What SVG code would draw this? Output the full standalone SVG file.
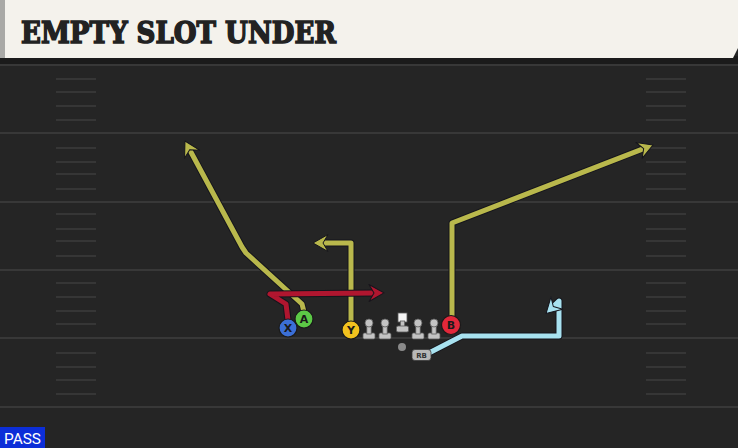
<svg xmlns="http://www.w3.org/2000/svg" width="738" height="448" viewBox="0 0 738 448">
  <style>
    .yard { stroke: #383838; stroke-width: 2; }
    .hash { stroke: #363636; stroke-width: 2; }
    .outline { fill: none; stroke: #15151c; stroke-width: 7; stroke-linejoin: round; stroke-linecap: butt; }
    .route { fill: none; stroke-width: 5; stroke-linejoin: round; stroke-linecap: butt; }
    .olive { stroke: #b9b84c; }
    .red { stroke: #b0162f; }
    .blue { stroke: #a8e2f0; }
    .player { stroke: #1a1a1a; stroke-width: 1.2; }
    .ltr { font-family: "DejaVu Sans", "Liberation Sans", sans-serif; font-weight: bold; font-size: 11px; fill: #1a1a1a; text-anchor: middle; }
    .lineman { fill: #c4c4c4; stroke: #5a5a5a; stroke-width: 0.8; }
  </style>
  <defs>
    <marker id="ah-olive" markerUnits="userSpaceOnUse" viewBox="-7 -11 19 22" refX="0" refY="0" markerWidth="19" markerHeight="22" orient="auto">
      <path d="M-5,-8.5 L10,0 L-5,8.5 L0,0 Z" fill="#b9b84c" stroke="#15151c" stroke-width="1" stroke-linejoin="round"/>
    </marker>
    <marker id="ah-red" markerUnits="userSpaceOnUse" viewBox="-7 -11 19 22" refX="0" refY="0" markerWidth="19" markerHeight="22" orient="auto">
      <path d="M-5,-8.5 L10,0 L-5,8.5 L0,0 Z" fill="#b0162f" stroke="#15151c" stroke-width="1" stroke-linejoin="round"/>
    </marker>
    <marker id="ah-blue" markerUnits="userSpaceOnUse" viewBox="-7 -11 19 22" refX="0" refY="0" markerWidth="19" markerHeight="22" orient="auto">
      <path d="M-5,-8.5 L10,0 L-5,8.5 L0,0 Z" fill="#a8e2f0" stroke="#15151c" stroke-width="1" stroke-linejoin="round"/>
    </marker>
    <g id="lman">
      <rect x="-6" y="10" width="12" height="6" rx="1.5" class="lineman"/>
      <rect x="-2.2" y="3" width="4.4" height="8" class="lineman"/>
      <circle cx="0" cy="0" r="4" class="lineman"/>
    </g>
  </defs>

  <!-- field -->
  <rect x="0" y="0" width="738" height="448" fill="#252525"/>
  <rect x="0" y="56" width="738" height="8" fill="#1b1b1b"/>

  <g id="yardlines">
    <line class="yard" x1="0" y1="65" x2="738" y2="65"/>
    <line class="yard" x1="0" y1="133" x2="738" y2="133"/>
    <line class="yard" x1="0" y1="202" x2="738" y2="202"/>
    <line class="yard" x1="0" y1="270" x2="738" y2="270"/>
    <line class="yard" x1="0" y1="338" x2="738" y2="338"/>
    <line class="yard" x1="0" y1="407" x2="738" y2="407"/>
  </g>
  <g id="hashes">
    <path class="hash" d="M56,79H96M56,92H96M56,106H96M56,120H96M56,148H96M56,162H96M56,174H96M56,189H96M56,214H96M56,229H96M56,241H96M56,256H96M56,283H96M56,297H96M56,311H96M56,324H96M56,353H96M56,367H96M56,380H96M56,394H96"/>
    <path class="hash" d="M646,79H686M646,92H686M646,106H686M646,120H686M646,148H686M646,162H686M646,174H686M646,189H686M646,214H686M646,229H686M646,241H686M646,256H686M646,283H686M646,297H686M646,311H686M646,324H686M646,353H686M646,367H686M646,380H686M646,394H686"/>
  </g>

  <!-- title bar -->
  <g id="title">
    <path d="M0,0 H738 V48 L733,58 H0 Z" fill="#f4f2ec"/>
    <rect x="0" y="0" width="5" height="58" fill="#a9a9a6"/>
    <text x="21" y="43" font-family="'DejaVu Serif', 'Liberation Serif', serif" font-weight="bold" font-size="30" fill="#222" stroke="#222" stroke-width="1.6" stroke-linejoin="miter" textLength="315" lengthAdjust="spacingAndGlyphs">EMPTY SLOT UNDER</text>
  </g>

  <!-- connectors / routes -->
  <g id="connectors">
    <!-- A route -->
    <path class="outline" d="M304,312 L302,304 L246,253 L242,247 L189.7,149.8"/>
    <path class="route olive" d="M304,312 L302,304 L246,253 L242,247 L189.7,149.8" marker-end="url(#ah-olive)"/>
    <!-- Y route -->
    <path class="outline" d="M351,322 L351,243 L323,243"/>
    <path class="route olive" d="M351,322 L351,243 L323,243" marker-end="url(#ah-olive)"/>
    <!-- B route -->
    <path class="outline" d="M452,317 L452,223 L643.7,148.6"/>
    <path class="route olive" d="M452,317 L452,223 L643.7,148.6" marker-end="url(#ah-olive)"/>
    <!-- X route -->
    <path class="outline" d="M288,320 L286,304 L270,294 L374,293"/>
    <path class="route red" d="M288,320 L286,304 L270,294 L374,293" marker-end="url(#ah-red)"/>
    <!-- RB route -->
    <path class="outline" d="M425,355 L462,336 L559,336 L559,301 L553.3,306.5"/>
    <path class="route blue" d="M425,355 L462,336 L559,336 L559,301 L553.3,306.5" marker-end="url(#ah-blue)"/>
  </g>

  <!-- offensive line -->
  <g id="ol-lt"><use href="#lman" x="369" y="323"/></g>
  <g id="ol-lg"><use href="#lman" x="385" y="323"/></g>
  <g id="ol-c">
    <rect x="398" y="313" width="9" height="9" fill="#f4f4f4" stroke="#5a5a5a" stroke-width="0.8"/>
    <rect x="400.3" y="321" width="4.4" height="6" class="lineman"/>
    <rect x="396.5" y="326" width="12" height="6" rx="1.5" class="lineman"/>
  </g>
  <g id="ol-rg"><use href="#lman" x="418" y="323"/></g>
  <g id="ol-rt"><use href="#lman" x="434" y="323"/></g>

  <g id="ball"><circle cx="402" cy="347" r="4" fill="#8a8a8a"/></g>

  <g id="rb">
    <rect x="412" y="349.5" width="19" height="11" rx="3" fill="#b8b8b8" stroke="#3a3a3a" stroke-width="0.8"/>
    <text x="421.5" y="358.3" font-family="'DejaVu Sans', sans-serif" font-weight="bold" font-size="7" fill="#333" text-anchor="middle">RB</text>
  </g>

  <g id="player-x">
    <circle class="player" cx="288" cy="328" r="9" fill="#3b6fd6"/>
    <text class="ltr" x="288" y="332">X</text>
  </g>
  <g id="player-a">
    <circle class="player" cx="304" cy="319" r="9" fill="#5cc946"/>
    <text class="ltr" x="304" y="323">A</text>
  </g>
  <g id="player-y">
    <circle class="player" cx="351" cy="330" r="9" fill="#f2c21e"/>
    <text class="ltr" x="351" y="334">Y</text>
  </g>
  <g id="player-b">
    <circle class="player" cx="451" cy="325" r="9.5" fill="#e2283a"/>
    <text class="ltr" x="451" y="329">B</text>
  </g>

  <!-- PASS label -->
  <g id="pass">
    <rect x="0" y="427" width="45" height="21" fill="#0c2ed8"/>
    <text x="4" y="444" font-family="Roboto, 'Liberation Sans', sans-serif" font-size="15" fill="#ffffff" textLength="37" lengthAdjust="spacingAndGlyphs">PASS</text>
  </g>
</svg>
